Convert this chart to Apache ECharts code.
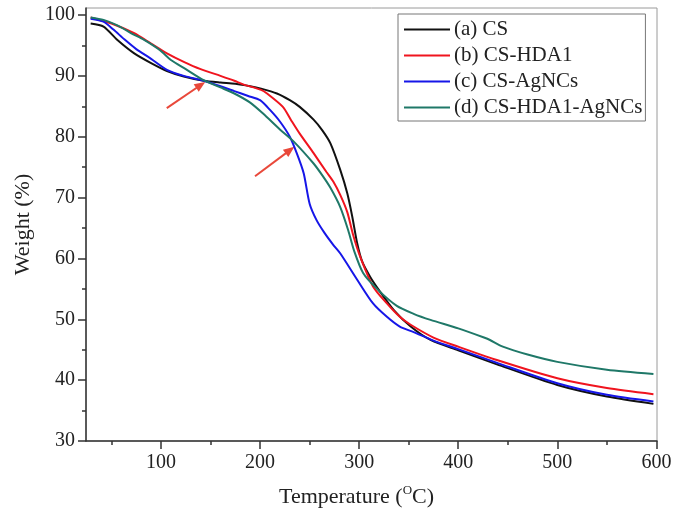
<!DOCTYPE html>
<html>
<head>
<meta charset="utf-8">
<script src="https://cdn.jsdelivr.net/npm/echarts@6/dist/echarts.min.js"></script>
<style>html,body{margin:0;padding:0;background:#fff}#c{width:675px;height:523px}</style>
</head>
<body>
<div id="c"></div>
<script>
const seriesNames = ['(a) CS', '(b) CS-HDA1', '(c) CS-AgNCs', '(d) CS-HDA1-AgNCs'];

const cs = [[29,98.6],[42,98.1],[56,95.9],[73,93.7],[90,92.1],[106,90.8],[123,89.9],[143,89.2],[160,88.9],[175,88.7],[190,88.3],[201,87.9],[217,87.1],[230,86.0],[240,84.9],[254,82.8],[263,81.0],[271,78.9],[281,74.5],[288,70.7],[293,66.9],[298,62.5],[303,59.5],[311,57.0],[320,54.8],[335,51.5],[352,48.8],[372,46.6],[400,44.9],[439,42.6],[500,39.2],[550,37.3],[597,36.1]];

const csHda1 = [[29,99.6],[50,98.6],[73,97.0],[90,95.3],[106,93.7],[123,92.3],[140,91.1],[160,90.0],[174,89.2],[183,88.6],[201,87.7],[207,87.1],[223,84.9],[231,82.8],[240,80.5],[254,77.3],[267,74.2],[274,72.6],[281,70.4],[288,67.6],[294,63.8],[301,60.3],[314,55.4],[328,52.6],[341,50.4],[352,49.1],[375,47.0],[400,45.5],[439,43.3],[500,40.3],[550,38.7],[597,37.7]];

const csAgNCs = [[29,99.4],[42,98.9],[52,97.6],[63,96.0],[75,94.4],[90,92.8],[106,91.0],[123,90.0],[143,89.2],[160,88.3],[174,87.5],[188,86.7],[200,86.0],[210,84.4],[220,82.5],[230,80.0],[237,77.3],[244,74.0],[250,69.0],[257,66.3],[265,64.2],[274,62.2],[281,60.8],[298,56.5],[314,52.6],[328,50.4],[341,48.8],[355,47.9],[375,46.5],[400,45.1],[440,42.8],[500,39.5],[550,37.6],[597,36.5]];

const csHda1AgNCs = [[29,99.6],[42,99.2],[56,98.3],[70,97.0],[83,95.9],[99,94.2],[110,92.6],[125,91.1],[143,89.3],[160,88.1],[174,87.1],[190,85.6],[203,83.8],[220,81.2],[234,79.2],[254,75.6],[263,73.6],[271,71.6],[281,68.4],[289,64.6],[295,61.2],[304,57.6],[318,55.0],[338,52.2],[355,50.9],[372,49.9],[400,48.5],[426,47.0],[432,46.6],[445,45.5],[470,44.2],[500,43.0],[550,41.7],[597,41.0]];

const arrow1 = [[105.8,84.7],[140.1,88.5]];
const arrow2 = [[194.9,73.5],[230.2,77.8]];

const xTicks = [100,200,300,400,500,600];
const xMinorTicks = [50,150,250,350,450,550];
const yTicks = [30,40,50,60,70,80,90,100];
const yMinorTicks = [35,45,55,65,75,85,95];

const colors = ['#111111','#f0141e','#1616e8','#1f7868'];
const FONT = 'Liberation Serif';
const X_MIN = 24.3, X_MAX = 600.6, Y_MIN = 30, Y_MAX = 101.15;

const chart = echarts.init(document.getElementById('c'), null, {renderer:'canvas'});
const dataSets = [cs, csHda1, csAgNCs, csHda1AgNCs];

const series = dataSets.map((d, i) => ({
  name: seriesNames[i],
  type: 'line',
  data: d,
  smooth: 0.25,
  symbol: 'none',
  showSymbol: false,
  z: 3 + i,
  lineStyle: {color: colors[i], width: 2},
  itemStyle: {color: colors[i]},
  xAxisIndex: 0, yAxisIndex: 0
}));

series.push({
  type: 'line',
  data: [],
  xAxisIndex: 0, yAxisIndex: 0,
  markLine: {
    silent: true,
    animation: false,
    symbol: ['none', 'triangle'],
    symbolSize: [9, 11],
    label: {show: false},
    lineStyle: {color: '#e9483a', width: 2, type: 'solid'},
    data: [
      [{coord: arrow1[0]}, {coord: arrow1[1]}],
      [{coord: arrow2[0]}, {coord: arrow2[1]}]
    ]
  }
});

chart.setOption({
  animation: false,
  backgroundColor: '#fff',
  grid: {left: 86, right: 18, top: 8, bottom: 82, show: true, borderColor: '#9a9a9a', borderWidth: 1},
  legend: {
    data: seriesNames,
    orient: 'vertical',
    left: 398, top: 14,
    padding: [5, 3, 3, 6],
    itemGap: 5,
    icon: 'rect',
    itemWidth: 46, itemHeight: 2,
    borderColor: '#777', borderWidth: 1,
    backgroundColor: '#fff',
    textStyle: {fontFamily: FONT, fontSize: 21, color: '#222', lineHeight: 21, padding: [0,0,0,-1]}
  },
  xAxis: [{
    type: 'value', min: X_MIN, max: X_MAX,
    position: 'bottom',
    splitLine: {show: false},
    axisLine: {show: true, lineStyle: {color: '#333', width: 1.5}},
    axisTick: {show: true, length: 8, customValues: xTicks, lineStyle: {color: '#333', width: 1.5}},
    axisLabel: {customValues: xTicks, fontFamily: FONT, fontSize: 20, color: '#222', margin: 12},
    name: '{a|Temperature (}{b|O}{a|C)}',
    nameLocation: 'middle',
    nameGap: 43,
    nameTextStyle: {
      padding: [0, 30, 0, 0],
      rich: {
        a: {fontFamily: FONT, fontSize: 22, color: '#222', lineHeight: 26},
        b: {fontFamily: FONT, fontSize: 13, color: '#222', verticalAlign: 'top', lineHeight: 14}
      }
    }
  }, {
    type: 'value', min: X_MIN, max: X_MAX,
    position: 'bottom',
    splitLine: {show: false},
    axisLine: {show: false},
    axisTick: {show: true, length: 4, customValues: xMinorTicks, lineStyle: {color: '#333', width: 1.5}},
    axisLabel: {show: false}
  }],
  yAxis: [{
    type: 'value', min: Y_MIN, max: Y_MAX,
    position: 'left',
    splitLine: {show: false},
    axisLine: {show: true, lineStyle: {color: '#333', width: 1.5}},
    axisTick: {show: true, length: 8, customValues: yTicks, lineStyle: {color: '#333', width: 1.5}},
    axisLabel: {customValues: yTicks, fontFamily: FONT, fontSize: 20, color: '#222', margin: 11},
    name: 'Weight (%)',
    nameLocation: 'middle',
    nameGap: 52,
    nameTextStyle: {fontFamily: FONT, fontSize: 22, color: '#222'}
  }, {
    type: 'value', min: Y_MIN, max: Y_MAX,
    position: 'left',
    splitLine: {show: false},
    axisLine: {show: false},
    axisTick: {show: true, length: 4, customValues: yMinorTicks, lineStyle: {color: '#333', width: 1.5}},
    axisLabel: {show: false}
  }],
  series: series
});
</script>
</body>
</html>
